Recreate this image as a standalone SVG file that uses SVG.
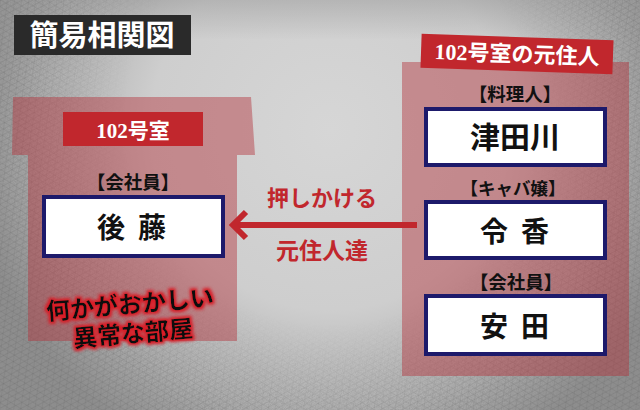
<svg xmlns="http://www.w3.org/2000/svg" width="640" height="410" viewBox="0 0 640 410">
<defs>
<style>
.serif{font-family:"Liberation Serif","Noto Sans CJK JP",serif;font-weight:bold;}
.jp{font-family:"Noto Sans CJK JP",sans-serif;font-weight:bold;}
.room{fill:#b3323c;fill-opacity:0.45;}
.box{fill:#ffffff;stroke:#1d1a6b;stroke-width:4;}
.tag{fill:#c1272d;}
.white{fill:#ffffff;}
.black{fill:#111111;}
.red{fill:#c1272d;}
.hatch{stroke:#3a3a3a;stroke-width:0.55;fill:none;}
</style>
<radialGradient id="bgGrad" gradientUnits="userSpaceOnUse" cx="330" cy="130" r="360">
<stop offset="0" stop-color="#d6d6d6"/>
<stop offset="0.5" stop-color="#cecece"/>
<stop offset="0.8" stop-color="#acacac"/>
<stop offset="1" stop-color="#8e8e8e"/>
</radialGradient>
<linearGradient id="topShade" x1="0" y1="0" x2="0" y2="1">
<stop offset="0" stop-color="#9a9a9a" stop-opacity="0.5"/>
<stop offset="1" stop-color="#9a9a9a" stop-opacity="0"/>
</linearGradient>
<radialGradient id="maskGrad" gradientUnits="userSpaceOnUse" cx="330" cy="120" r="330">
<stop offset="0.62" stop-color="#000"/>
<stop offset="0.95" stop-color="#fff"/>
</radialGradient>
<mask id="texMask"><rect width="640" height="410" fill="url(#maskGrad)"/></mask>
<pattern id="h1" width="5" height="5" patternUnits="userSpaceOnUse" patternTransform="rotate(62)">
<line x1="0" y1="0" x2="0" y2="5" class="hatch"/>
</pattern>
<pattern id="h2" width="6" height="6" patternUnits="userSpaceOnUse" patternTransform="rotate(-58)">
<line x1="0" y1="0" x2="0" y2="6" class="hatch"/>
</pattern>
<pattern id="h3" width="7" height="7" patternUnits="userSpaceOnUse" patternTransform="rotate(8)">
<line x1="0" y1="0" x2="0" y2="7" class="hatch"/>
</pattern>
<filter id="noise" x="0" y="0" width="100%" height="100%">
<feTurbulence type="fractalNoise" baseFrequency="0.85" numOctaves="2" seed="4"/>
<feColorMatrix type="matrix" values="0 0 0 0 0.25  0 0 0 0 0.25  0 0 0 0 0.25  0 0 0 1.6 -0.6"/>
</filter>
<filter id="glow" x="-10%" y="-30%" width="120%" height="160%">
<feMorphology in="SourceAlpha" operator="dilate" radius="1.6" result="d"/>
<feGaussianBlur in="d" stdDeviation="1.4" result="b"/>
<feFlood flood-color="#d81e28"/>
<feComposite in2="b" operator="in" result="g"/>
<feMerge><feMergeNode in="g"/><feMergeNode in="SourceGraphic"/></feMerge>
</filter>
</defs>

<g id="background">
<rect width="640" height="410" fill="url(#bgGrad)"/>
<rect width="640" height="40" fill="url(#topShade)"/>
<g mask="url(#texMask)">
<rect width="640" height="410" fill="url(#h1)" opacity="0.4"/>
<rect width="640" height="410" fill="url(#h2)" opacity="0.35"/>
<rect width="640" height="410" fill="url(#h3)" opacity="0.3"/>
<rect width="640" height="410" filter="url(#noise)" opacity="0.6"/>
</g>
</g>

<g id="title">
<rect x="14" y="15" width="177" height="40" fill="#2a2a2a"/>
<text x="102" y="46" text-anchor="middle" class="serif white" font-size="29">簡易相関図</text>
</g>

<g id="room-102">
<polygon class="room" points="13,97 251,97 255,155 237,155 237,341 28,341 28,155 12,155"/>
<rect class="tag" x="63" y="112" width="140" height="34"/>
<text x="133" y="138" text-anchor="middle" class="serif white" font-size="21">102号室</text>
<text x="133" y="189" text-anchor="middle" class="serif black" font-size="18.5">【会社員】</text>
</g>

<g id="node-goto">
<rect class="box" x="44" y="197" width="179" height="59"/>
<text x="133" y="238" text-anchor="middle" class="serif black" font-size="28" letter-spacing="3" xml:space="preserve">後 藤</text>
</g>

<g id="note-strange" filter="url(#glow)">
<text x="130" y="313" text-anchor="middle" class="jp black" font-size="24" font-weight="900" transform="rotate(-5 130 305)">何かがおかしい</text>
<text x="133" y="342" text-anchor="middle" class="jp black" font-size="24" font-weight="900" transform="rotate(-5 133 333)">異常な部屋</text>
</g>

<g id="room-former">
<rect class="room" x="402" y="62" width="227" height="314"/>
<g transform="rotate(2 517 54)">
<rect class="tag" x="421" y="37" width="192" height="34"/>
<text x="517" y="62" text-anchor="middle" class="serif white" font-size="22">102号室の元住人</text>
</g>
<text x="515" y="101" text-anchor="middle" class="serif black" font-size="18.5">【料理人】</text>
<text x="513" y="195" text-anchor="middle" class="serif black" font-size="17.5">【キャバ嬢】</text>
<text x="516" y="289" text-anchor="middle" class="serif black" font-size="18.5">【会社員】</text>
</g>

<g id="node-tsudagawa">
<rect class="box" x="426" y="109" width="179" height="56"/>
<text x="515" y="148" text-anchor="middle" class="serif black" font-size="30">津田川</text>
</g>

<g id="node-reika">
<rect class="box" x="426" y="202" width="179" height="56" stroke="#ff2532"/>
<text x="516" y="242" text-anchor="middle" class="serif black" font-size="28" letter-spacing="3" xml:space="preserve">令 香</text>
</g>

<g id="node-yasuda">
<rect class="box" x="426" y="296" width="179" height="58"/>
<text x="516" y="337" text-anchor="middle" class="serif black" font-size="28" letter-spacing="3" xml:space="preserve">安 田</text>
</g>

<g id="connectors">
<line x1="417" y1="225" x2="236" y2="225" stroke="#c1272d" stroke-width="6"/>
<polyline points="246,212 233,225 246,238" fill="none" stroke="#c1272d" stroke-width="6" stroke-linejoin="miter"/>
<text x="322" y="206" text-anchor="middle" class="serif red" font-size="22">押しかける</text>
<text x="322" y="259" text-anchor="middle" class="serif red" font-size="23">元住人達</text>
</g>
</svg>
